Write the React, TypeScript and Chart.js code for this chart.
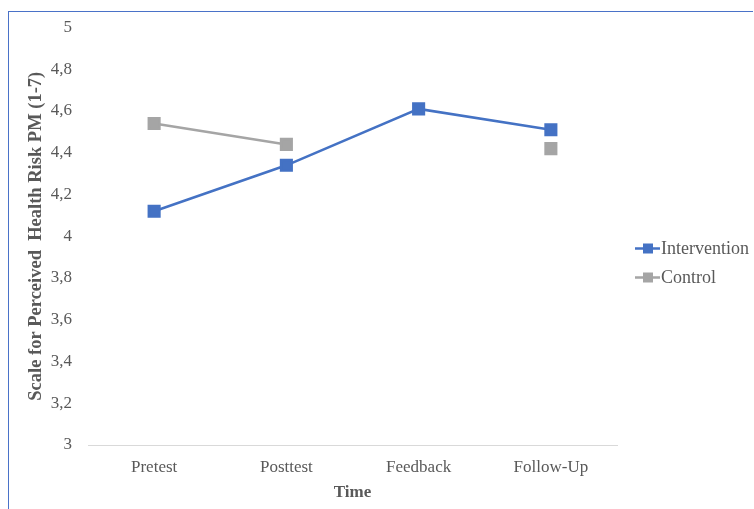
import React, { useEffect, useRef } from "react";
import { Chart, registerables } from "chart.js";

Chart.register(...registerables);

const timePoints = ["Pretest", "Posttest", "Feedback", "Follow-Up"];
const interventionValues = [4.12, 4.34, 4.61, 4.51];
const controlValues: (number | null)[] = [4.54, 4.44, null, 4.42];
const seriesNames = ["Intervention", "Control"];
const seriesColors = ["#4472C4", "#A5A5A5"];

const FONT = "'Liberation Serif', 'Times New Roman', serif";
const TEXT = "#595959";

// Legend on the right: short line with a square marker, then the label
const sideLegend = {
  id: "sideLegend",
  afterDraw(chart: Chart) {
    const { ctx } = chart;
    const x0 = 626;
    const rows = [236.5, 265.5];
    ctx.save();
    ctx.font = `18px ${FONT}`;
    ctx.textBaseline = "middle";
    ctx.textAlign = "left";
    seriesNames.forEach((name, i) => {
      const y = rows[i];
      ctx.strokeStyle = seriesColors[i];
      ctx.lineWidth = 2.5;
      ctx.beginPath();
      ctx.moveTo(x0, y);
      ctx.lineTo(x0 + 25, y);
      ctx.stroke();
      ctx.fillStyle = seriesColors[i];
      ctx.fillRect(x0 + 8, y - 5, 10, 10);
      ctx.fillStyle = TEXT;
      ctx.fillText(name, x0 + 26, y + 1);
    });
    ctx.restore();
  },
};

export default function App() {
  const ref = useRef<HTMLCanvasElement>(null);

  useEffect(() => {
    if (!ref.current) return;
    const chart = new Chart(ref.current, {
      type: "line",
      data: {
        labels: timePoints,
        datasets: [
          {
            label: seriesNames[0],
            data: interventionValues,
            borderColor: seriesColors[0],
            backgroundColor: seriesColors[0],
            borderWidth: 2.5,
            pointStyle: "rect",
            pointRadius: 7.5,
            pointHoverRadius: 7.5,
          },
          {
            label: seriesNames[1],
            data: controlValues,
            borderColor: seriesColors[1],
            backgroundColor: seriesColors[1],
            borderWidth: 2.5,
            pointStyle: "rect",
            pointRadius: 7.5,
            pointHoverRadius: 7.5,
            spanGaps: false,
          },
        ],
      },
      options: {
        animation: false,
        responsive: false,
        layout: { padding: { top: 15.5, right: 135, bottom: 0, left: 0 } },
        plugins: { legend: { display: false }, tooltip: { enabled: false } },
        scales: {
          x: {
            offset: true,
            grid: { display: false, drawTicks: false },
            border: { display: true, color: "#D9D9D9", width: 1 },
            ticks: { color: TEXT, font: { family: FONT, size: 17 }, padding: 12 },
            title: {
              display: true,
              text: "Time",
              color: TEXT,
              font: { family: FONT, size: 17, weight: "bold" },
              padding: { top: 0, bottom: 6 },
            },
            afterFit: (s: any) => {
              s.height = 64;
            },
          },
          y: {
            min: 3,
            max: 5,
            grid: { display: false, drawTicks: false },
            border: { display: false },
            ticks: {
              stepSize: 0.2,
              color: TEXT,
              padding: 16,
              font: { family: FONT, size: 17 },
              callback: (v: any) => String(Math.round(Number(v) * 10) / 10).replace(".", ","),
            },
            title: {
              display: true,
              text: "Scale for Perceived  Health Risk PM (1-7)",
              color: TEXT,
              font: { family: FONT, size: 18.5, weight: "bold" },
              padding: { top: 16, bottom: 0 },
            },
            afterFit: (s: any) => {
              s.width = 79;
              s.paddingTop = 0;
              s.paddingBottom = 0;
            },
          },
        },
      },
      plugins: [sideLegend],
    });
    return () => chart.destroy();
  }, []);

  return (
    <div
      style={{
        position: "fixed",
        left: 8,
        top: 11,
        width: 745,
        height: 510,
        borderLeft: "1.5px solid #4A72C8",
        borderTop: "1.5px solid #4A72C8",
        boxSizing: "border-box",
        overflow: "hidden",
      }}
    >
      <canvas ref={ref} width={743} height={497} style={{ display: "block" }} />
    </div>
  );
}
